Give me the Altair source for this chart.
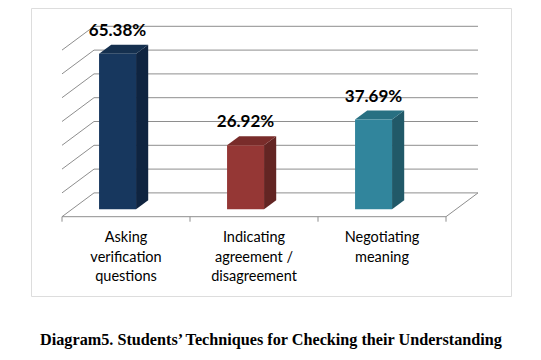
import altair as alt
import pandas as pd

# ---- data ----
categories = ["Asking\nverification\nquestions",
              "Indicating\nagreement /\ndisagreement",
              "Negotiating\nmeaning"]
values = [65.38, 26.92, 37.69]
value_labels = ["65.38%", "26.92%", "37.69%"]
front_colors = ["#17375E", "#953735", "#31859C"]
side_colors = ["#0F2440", "#632523", "#215968"]
top_colors = ["#15304F", "#792C2A", "#287082"]
grid_values = [0, 10, 20, 30, 40, 50, 60, 70]
caption = "Diagram5. Students\u2019 Techniques for Checking their Understanding"

# ---- pseudo-3D geometry (style constants, in scale units) ----
DX, DY = 0.25, 10.0          # full depth offset
T_FRONT, T_BACK = 0.31, 0.69  # bar depth extent (fraction of depth)
BAR_OFF, BAR_W = 0.212, 0.289
TICK_LEN = 2.1
n = len(categories)

# grid / wall / floor segments
seg = []
for v in grid_values:
    seg.append(dict(x=DX, y=v + DY, x2=n + DX, y2=v + DY))   # back wall line
    seg.append(dict(x=0, y=v, x2=DX, y2=v + DY))              # left wall diagonal
seg.append(dict(x=0, y=0, x2=n, y2=0))                         # floor front edge
seg.append(dict(x=n, y=0, x2=n + DX, y2=DY))                   # floor right edge
for i in range(n + 1):
    seg.append(dict(x=i, y=0, x2=i, y2=-TICK_LEN))             # ticks
seg_df = pd.DataFrame(seg)

front_rows, side_rows, top_rows, lab_rows, cat_rows = [], [], [], [], []
for i, (v, lab) in enumerate(zip(values, value_labels)):
    xl = i + BAR_OFF + T_FRONT * DX
    xr = xl + BAR_W
    yb = T_FRONT * DY
    yt = v + T_FRONT * DY
    ddx = (T_BACK - T_FRONT) * DX
    ddy = (T_BACK - T_FRONT) * DY
    front_rows.append(dict(id=i, xl=xl, xr=xr, yb=yb, yt=yt, c=front_colors[i]))
    side_rows.append(dict(id=i, x=xr, lo=yb, hi=yt, c=side_colors[i]))
    side_rows.append(dict(id=i, x=xr + ddx, lo=yb + ddy, hi=yt + ddy, c=side_colors[i]))
    top_rows.append(dict(id=i, y=yt, xl=xl, xr=xr, c=top_colors[i]))
    top_rows.append(dict(id=i, y=yt + ddy, xl=xl + ddx, xr=xr + ddx, c=top_colors[i]))
    lab_rows.append(dict(x=(xl + xr) / 2, y=yt, t=lab))
    cat_rows.append(dict(x=i + 0.5, t=categories[i]))

front_df = pd.DataFrame(front_rows)
side_df = pd.DataFrame(side_rows)
top_df = pd.DataFrame(top_rows)
lab_df = pd.DataFrame(lab_rows)
cat_df = pd.DataFrame(cat_rows)

xs = alt.Scale(domain=[-0.2422, 3.5078], nice=False, zero=False)
ys = alt.Scale(domain=[-33.32, 87.69], nice=False, zero=False)
GRID = "#8E8E8E"

lines = alt.Chart(seg_df).mark_rule(color=GRID, strokeWidth=1).encode(
    x=alt.X("x:Q", scale=xs, axis=None), x2="x2:Q",
    y=alt.Y("y:Q", scale=ys, axis=None), y2="y2:Q")

front = alt.Chart(front_df).mark_rect().encode(
    x=alt.X("xl:Q", scale=xs, axis=None), x2="xr:Q",
    y=alt.Y("yb:Q", scale=ys, axis=None), y2="yt:Q",
    color=alt.Color("c:N", scale=None))

side = alt.Chart(side_df).mark_area().encode(
    x=alt.X("x:Q", scale=xs, axis=None),
    y=alt.Y("hi:Q", scale=ys, axis=None), y2="lo:Q",
    detail="id:N",
    color=alt.Color("c:N", scale=None))

top = alt.Chart(top_df).mark_area(orient="horizontal").encode(
    y=alt.Y("y:Q", scale=ys, axis=None),
    x=alt.X("xl:Q", scale=xs, axis=None), x2="xr:Q",
    detail="id:N",
    color=alt.Color("c:N", scale=None))

vlabels = alt.Chart(lab_df).mark_text(
    font="Lato", fontSize=17, fontWeight="bold", color="#000000",
    baseline="alphabetic", dy=-18).encode(
    x=alt.X("x:Q", scale=xs, axis=None),
    y=alt.Y("y:Q", scale=ys, axis=None),
    text="t:N")

clabels = alt.Chart(cat_df).mark_text(
    font="Lato", fontSize=14.5, color="#000000", baseline="alphabetic",
    lineBreak="\n", lineHeight=19.5).encode(
    x=alt.X("x:Q", scale=xs, axis=None),
    y=alt.value(234.3),
    text="t:N")

chart = alt.layer(lines, side, top, front, vlabels, clabels).properties(
    width=480, height=288,
    autosize=alt.AutoSizeParams(type="none"),
    padding={"left": 23, "top": 0, "right": 22, "bottom": 56},
    title=alt.TitleParams(caption, orient="bottom", anchor="middle",
                          font="Liberation Serif", fontSize=16.2,
                          fontWeight="bold", color="#000000", offset=36),
).configure_view(stroke="#A0A0A0", strokeWidth=1).configure(background="white")

chart.save("out.html", embed_options={"renderer": "svg", "actions": False})
